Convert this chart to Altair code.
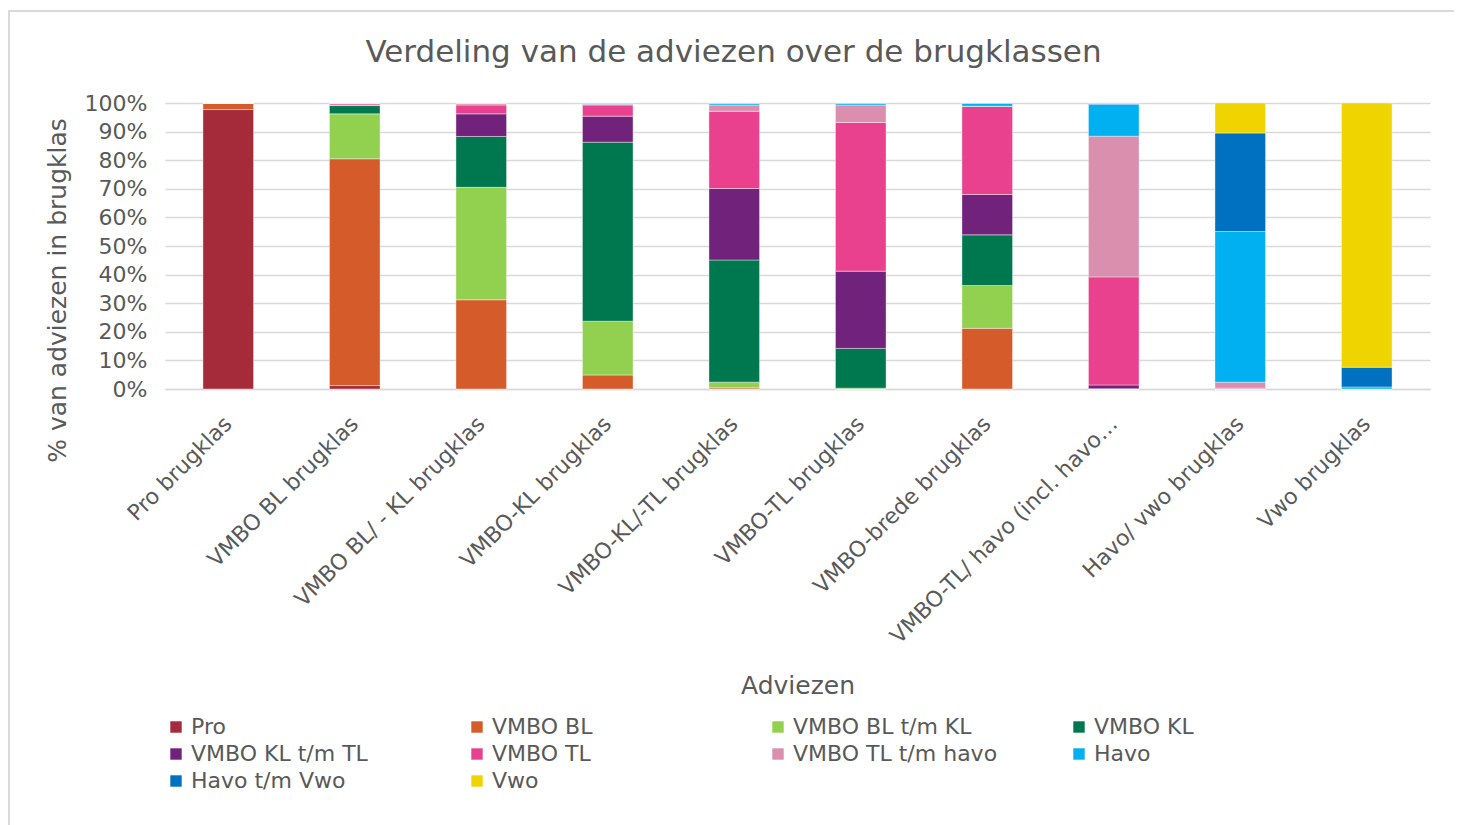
import altair as alt
import pandas as pd

categories = [
    "Pro brugklas",
    "VMBO BL brugklas",
    "VMBO BL/ - KL brugklas",
    "VMBO-KL brugklas",
    "VMBO-KL/-TL brugklas",
    "VMBO-TL brugklas",
    "VMBO-brede brugklas",
    "VMBO-TL/ havo  (incl. havo…",
    "Havo/ vwo brugklas",
    "Vwo brugklas",
]

series = [
    "Pro", "VMBO BL", "VMBO BL t/m KL", "VMBO KL", "VMBO KL t/m TL",
    "VMBO TL", "VMBO TL t/m havo", "Havo", "Havo t/m Vwo", "Vwo",
]

colors = [
    "#A52A3A", "#D65B2A", "#92D050", "#00784F", "#71227A",
    "#E9418D", "#DA8FAE", "#00B0F0", "#0070C0", "#F0D400",
]

# percentage per advice (series) for each brugklas (category)
pro            = [97.7, 1.2, 0.0, 0.0, 0.0, 0.0, 0.0, 0.0, 0.0, 0.0]
vmbo_bl        = [2.3, 79.3, 31.2, 4.9, 0.4, 0.0, 21.2, 0.0, 0.0, 0.0]
vmbo_bl_kl     = [0.0, 15.7, 39.3, 18.8, 2.0, 0.3, 15.0, 0.0, 0.0, 0.0]
vmbo_kl        = [0.0, 2.9, 17.8, 62.6, 42.7, 13.9, 17.7, 0.1, 0.0, 0.0]
vmbo_kl_tl     = [0.0, 0.1, 7.9, 9.1, 25.0, 27.0, 14.1, 1.3, 0.0, 0.0]
vmbo_tl        = [0.0, 0.5, 3.1, 3.9, 27.0, 52.0, 30.8, 37.8, 0.3, 0.0]
vmbo_tl_havo   = [0.0, 0.3, 0.7, 0.3, 2.2, 6.1, 0.1, 49.2, 2.1, 0.0]
havo           = [0.0, 0.0, 0.0, 0.2, 0.5, 0.7, 1.1, 11.1, 52.6, 0.7]
havo_vwo       = [0.0, 0.0, 0.0, 0.2, 0.2, 0.0, 0.0, 0.3, 34.4, 6.9]
vwo            = [0.0, 0.0, 0.0, 0.0, 0.0, 0.0, 0.0, 0.2, 10.5, 92.4]

values = [pro, vmbo_bl, vmbo_bl_kl, vmbo_kl, vmbo_kl_tl,
          vmbo_tl, vmbo_tl_havo, havo, havo_vwo, vwo]

rows = []
for si, (s, vals) in enumerate(zip(series, values)):
    for c, v in zip(categories, vals):
        rows.append({"brugklas": c, "advies": s, "pct": v, "idx": si})
df = pd.DataFrame(rows)

FONT = "DejaVu Sans"
GREY = "#595959"

bars = alt.Chart(df).mark_bar(stroke="white", strokeWidth=0.4).encode(
    x=alt.X("brugklas:N", sort=categories, title="Adviezen",
            scale=alt.Scale(paddingInner=0.6, paddingOuter=0.3),
            axis=alt.Axis(labelAngle=-45, labelAlign="right", labelBaseline="middle",
                          labelFontSize=22, labelColor=GREY, labelPadding=31,
                          ticks=False, domainColor="#d9d9d9", domainWidth=1.5,
                          titleFontSize=25, titleColor=GREY, titleFontWeight="normal",
                          titleBaseline="middle", titleY=296,
                          labelLimit=400, labelOverlap=False)),
    y=alt.Y("pct:Q", stack="normalize", title="% van adviezen in brugklas",
            axis=alt.Axis(format=".0%", values=[i / 10 for i in range(11)],
                          labelFontSize=22, labelColor=GREY, labelPadding=18,
                          labelOverlap=False,
                          ticks=False, domain=False, gridColor="#d9d9d9", gridWidth=1.5,
                          titleFontSize=25, titleColor=GREY, titleFontWeight="normal",
                          titleX=-95, titleY=187)),
    color=alt.Color("advies:N", sort=series,
                    scale=alt.Scale(domain=series, range=colors),
                    legend=alt.Legend(title=None, orient="none", legendX=0, legendY=613,
                                      columns=4, direction="horizontal",
                                      symbolType="square", symbolSize=130,
                                      symbolStrokeWidth=0,
                                      labelFontSize=22, labelColor=GREY,
                                      gridAlign="all", columnPadding=70, rowPadding=5,
                                      labelLimit=400)),
    order=alt.Order("idx:Q", sort="ascending"),
)

frame = alt.Chart(alt.Data(values=[{}])).mark_rect(
    fill=None, stroke="#d9d9d9", strokeWidth=2
).encode(
    x=alt.value(-156), x2=alt.value(1292),
    y=alt.value(-92), y2=alt.value(900),
)

chart = alt.layer(frame, bars).properties(
    width=1265,
    height=286,
    title=alt.TitleParams("Verdeling van de adviezen over de brugklassen",
                          fontSize=31, color=GREY, fontWeight="normal",
                          anchor="middle", dx=-64, dy=84, offset=25),
    padding={"left": 157, "top": 95, "right": 24, "bottom": 436},
    autosize=alt.AutoSizeParams(type="none"),
).configure(
    font=FONT,
).configure_view(
    stroke=None,
)

chart.save("out.html", embed_options={"renderer": "svg", "actions": False})
